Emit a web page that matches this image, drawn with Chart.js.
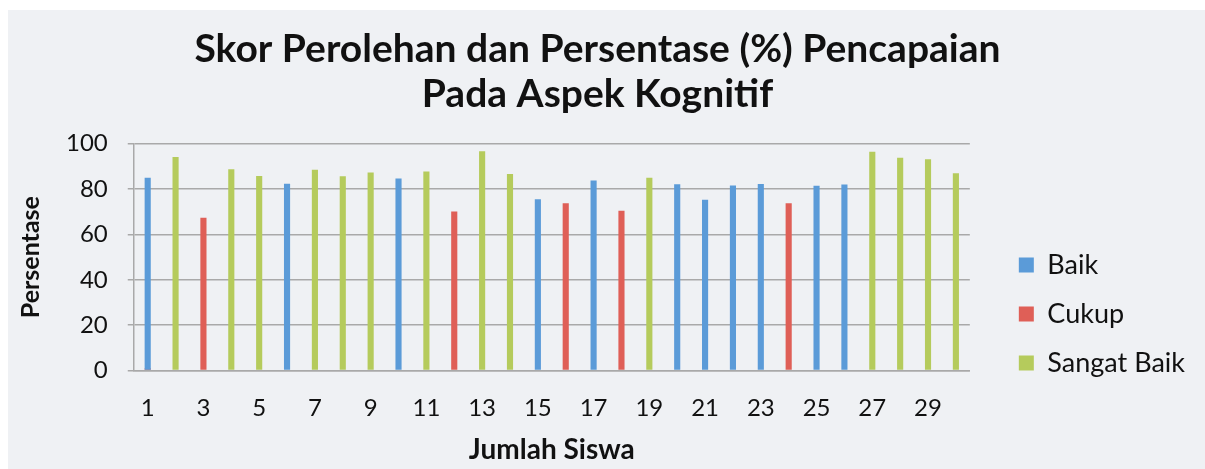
<!DOCTYPE html>
<html>
<head>
<meta charset="utf-8">
<script src="https://cdn.jsdelivr.net/npm/chart.js@4.4.1/dist/chart.umd.min.js"></script>
<style>
    html, body { margin: 0; padding: 0; background: #ffffff; }
    #wrap { position: relative; width: 1205px; height: 469px; }
</style>
</head>
<body>
<div id="wrap"><canvas id="myChart" width="1205" height="469"></canvas></div>
<script>
// nomor siswa 1..30
const siswa = ['1', '2', '3', '4', '5', '6', '7', '8', '9', '10',
    '11', '12', '13', '14', '15', '16', '17', '18', '19', '20',
    '21', '22', '23', '24', '25', '26', '27', '28', '29', '30'];

const baik = [85, null, null, null, null, 82.3, null, null, null, 84.7,
    null, null, null, null, 75.5, null, 83.8, null, null, 82.1,
    75.3, 81.6, 82.2, null, 81.5, 82.0, null, null, null, null];

const cukup = [1, null, 67.4, null, null, null, null, null, null, null,
    null, 70.1, null, null, null, 73.8, null, 70.4, null, null,
    null, null, null, 73.8, null, null, null, null, null, null];

const sangatBaik = [null, 94.1, null, 88.7, 85.8, null, 88.5, 85.6, 87.3, null,
    87.8, null, 96.7, 86.6, null, null, null, null, 85.0, null,
    null, null, null, null, null, null, 96.5, 93.8, 93.2, 87.0];

const yTicks = [0, 20, 40, 60, 80, 100];

const fontFamily = 'Lato, "Open Sans", sans-serif';
const gridColor = '#a9a9a9';

// latar kertas hasil scan
const paperBg = {
    id: 'paperBg',
    beforeDraw(chart) {
        const ctx = chart.ctx;
        ctx.save();
        ctx.fillStyle = '#eff1f4';
        ctx.fillRect(8, 10, chart.width - 8, chart.height - 10);
        ctx.restore();
    }
};

const data = {
    labels: siswa,
    datasets: [
        { label: 'Baik', data: baik, backgroundColor: '#5b9bd8' },
        { label: 'Cukup', data: cukup, backgroundColor: '#df5f57' },
        { label: 'Sangat Baik', data: sangatBaik, backgroundColor: '#b5cb5c' }
    ]
};

const options = {
    responsive: false,
    animation: false,
    layout: { padding: { top: 22, left: 0, right: 10, bottom: 2 } },
    datasets: {
        bar: { grouped: false, categoryPercentage: 1, barPercentage: 0.22 }
    },
    plugins: {
        title: {
            display: true,
            text: ['Skor Perolehan dan Persentase (%) Pencapaian', 'Pada Aspek Kognitif'],
            color: '#111',
            font: { family: fontFamily, size: 39, weight: 'bold', lineHeight: 1.15 },
            padding: { top: 5, bottom: 27 }
        },
        legend: {
            position: 'right',
            align: 'start',
            // judul kosong hanya untuk menurunkan posisi item legenda
            title: {
                display: true,
                text: ' ',
                font: { family: fontFamily, size: 12, lineHeight: 1.2 },
                padding: { top: 0, bottom: 193 }
            },
            labels: {
                color: '#111',
                font: { family: fontFamily, size: 27 },
                boxWidth: 15,
                boxHeight: 15,
                padding: 22
            }
        },
        tooltip: { enabled: false }
    },
    scales: {
        x: {
            grid: { display: false, drawTicks: false },
            border: { display: true, color: gridColor, width: 1.5 },
            ticks: {
                autoSkip: false,
                maxRotation: 0,
                padding: 23,
                color: '#111',
                font: { family: fontFamily, size: 24 },
                callback: function (v, i) { return i % 2 === 0 ? siswa[i] : ''; }
            },
            title: {
                display: true,
                text: 'Jumlah Siswa',
                color: '#111',
                font: { family: fontFamily, size: 28, weight: 'bold' },
                padding: { top: -12, bottom: 0 }
            }
        },
        y: {
            min: 0,
            max: 100,
            afterBuildTicks: function (axis) {
                axis.ticks = yTicks.map(function (v) { return { value: v }; });
            },
            grid: { color: gridColor, lineWidth: 1.5, tickLength: 6 },
            border: { display: true, color: gridColor, width: 1.5 },
            ticks: {
                padding: 20,
                color: '#111',
                font: { family: fontFamily, size: 24 }
            },
            title: {
                display: true,
                text: 'Persentase',
                color: '#111',
                font: { family: fontFamily, size: 25, weight: 'bold' },
                padding: { top: 16, bottom: 0 }
            }
        },
        // sumbu kosong: jarak antara area plot dan legenda
        gap: {
            type: 'linear',
            position: 'right',
            grid: { display: false, drawTicks: false },
            border: { display: false },
            ticks: { display: false },
            afterFit: function (axis) { axis.width = 27; }
        }
    }
};

const config = {
    type: 'bar',
    data: data,
    options: options,
    plugins: [paperBg]
};

const graph = new Chart(document.getElementById('myChart'), config);
</script>
</body>
</html>
